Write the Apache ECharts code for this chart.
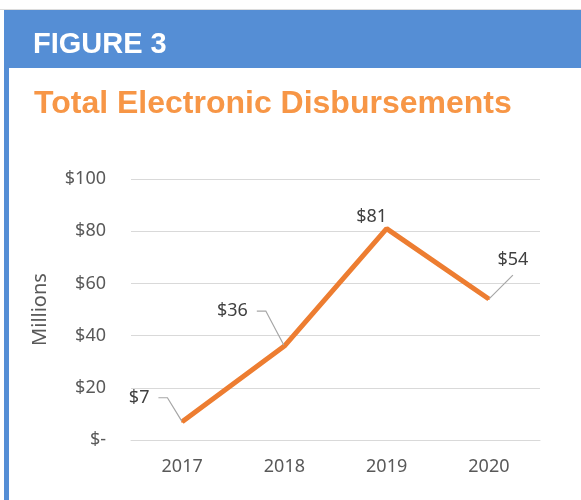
<!DOCTYPE html>
<html>
<head>
<meta charset="utf-8">
<script src="https://cdn.jsdelivr.net/npm/echarts@6/dist/echarts.min.js"></script>
<style>
  html, body { margin: 0; padding: 0; background: #fff; }
  #chart { width: 581px; height: 500px; }
</style>
</head>
<body>
<div id="chart"></div>
<script>
// values (millions of dollars)
const years = ['2017', '2018', '2019', '2020']
const disbursements = [7, 36, 81, 54]
const yTickLabels = ['$-', '$20', '$40', '$60', '$80', '$100']

// where each value label sits relative to its point, and its leader line
const labelShift = [[-43, -24], [-52, -35], [-15, -12], [24, -39]]
const leaderLen = [9, 9, null, 0]

const headerBlue = '#558ED5'
const textGray = '#595959'

const chart = echarts.init(document.getElementById('chart'))

chart.setOption({
  backgroundColor: '#fff',
  animation: false,
  title: [{
    text: 'FIGURE 3',
    left: 33,
    top: 30,
    padding: 0,
    textStyle: {
      fontFamily: 'Liberation Sans, Arial, sans-serif',
      fontWeight: 'bold',
      fontSize: 29,
      color: '#fff'
    }
  }, {
    text: 'Total Electronic Disbursements',
    left: 34,
    top: 88,
    padding: 0,
    textStyle: {
      fontFamily: 'Liberation Sans, Arial, sans-serif',
      fontWeight: 'bold',
      fontSize: 32,
      color: '#F79646'
    }
  }],
  graphic: [
    // thin rule above the header
    { type: 'rect', z: -1, shape: { x: 0, y: 9, width: 581, height: 1 }, style: { fill: '#dcdcdc' } },
    // blue header band
    { type: 'rect', z: -1, shape: { x: 4, y: 10, width: 577, height: 58 }, style: { fill: headerBlue } },
    // left border of the box
    { type: 'rect', z: -1, shape: { x: 4, y: 10, width: 5, height: 490 }, style: { fill: headerBlue } }
  ],
  grid: {
    left: 131,
    right: 41,
    top: 179,
    bottom: 60
  },
  xAxis: {
    type: 'category',
    data: years,
    boundaryGap: true,
    axisLine: { show: true, lineStyle: { color: '#d9d9d9', width: 1 } },
    axisTick: { show: false },
    axisLabel: {
      margin: 18,
      fontFamily: 'Noto Sans',
      fontSize: 18,
      color: textGray
    }
  },
  yAxis: {
    type: 'value',
    min: 0,
    max: 100,
    interval: 20,
    name: 'Millions',
    nameLocation: 'middle',
    nameRotate: 90,
    nameGap: 81,
    nameTextStyle: {
      fontFamily: 'Noto Sans',
      fontSize: 20,
      color: textGray
    },
    axisLine: { show: false },
    axisTick: { show: false },
    axisLabel: {
      margin: 25,
      fontFamily: 'Noto Sans',
      fontSize: 18,
      color: textGray,
      formatter: (val, idx) => yTickLabels[idx]
    },
    splitLine: { lineStyle: { color: '#d9d9d9', width: 1 } }
  },
  series: [{
    name: 'Total Electronic Disbursements',
    type: 'line',
    data: disbursements.map((v, i) => ({
      value: v,
      labelLine: leaderLen[i] === null ? { show: false } : { show: true, length2: leaderLen[i] }
    })),
    symbol: 'circle',
    symbolSize: 2,
    showSymbol: true,
    lineStyle: { color: '#ED7D31', width: 5 },
    itemStyle: { color: '#ED7D31' },
    label: {
      show: true,
      position: 'inside',
      padding: [6, 9],
      backgroundColor: 'rgba(255,255,255,0)',
      fontFamily: 'Noto Sans',
      fontSize: 18,
      color: '#404040',
      formatter: p => '$' + p.value
    },
    labelLine: {
      show: true,
      length2: 9,
      lineStyle: { color: '#a6a6a6', width: 1.2 }
    },
    labelLayout: p => ({ dx: labelShift[p.dataIndex][0], dy: labelShift[p.dataIndex][1] })
  }]
})
</script>
</body>
</html>
